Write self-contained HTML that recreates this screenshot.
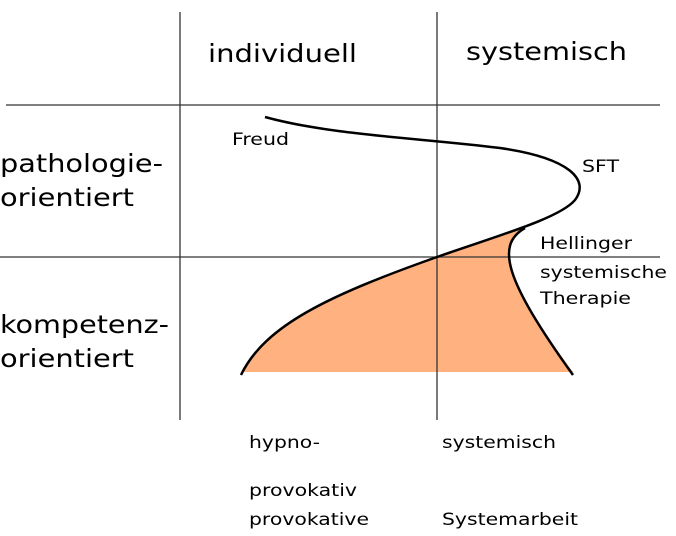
<!DOCTYPE html>
<html><head><meta charset="utf-8"><style>
html,body{margin:0;padding:0;background:#fff;}
svg{display:block;}
text{font-family:"DejaVu Sans","Liberation Sans",sans-serif;fill:#000;}
</style></head><body>
<svg width="676" height="536" viewBox="0 0 676 536" xmlns="http://www.w3.org/2000/svg">
<path d="M241,375 C265,325 330,295 437,257 C480,242 505,235 525,228 C495,245 505,280 573,372 L241,372 Z" fill="#ffb27f"/>
<g stroke="#333" stroke-width="1.3">
<line x1="180" y1="12" x2="180" y2="420"/>
<line x1="437" y1="12" x2="437" y2="420"/>
<line x1="6" y1="105" x2="660" y2="105"/>
<line x1="0" y1="257" x2="660" y2="257"/>
</g>
<g fill="none" stroke="#000" stroke-width="2.5">
<path d="M265,117 C330,135 420,138 500,148 C570,158 590,180 575,200 C560,218 500,235 437,257 C330,295 265,325 241,375"/>
<path d="M525,228 C495,245 505,280 573,375"/>
</g>
<g font-size="25" lengthAdjust="spacingAndGlyphs">
<text x="208" y="62" textLength="149" lengthAdjust="spacingAndGlyphs">individuell</text>
<text x="466" y="60" textLength="161" lengthAdjust="spacingAndGlyphs">systemisch</text>
<text x="0" y="172" textLength="163" lengthAdjust="spacingAndGlyphs">pathologie-</text>
<text x="0" y="206" textLength="134" lengthAdjust="spacingAndGlyphs">orientiert</text>
<text x="0" y="333" textLength="169" lengthAdjust="spacingAndGlyphs">kompetenz-</text>
<text x="0" y="367" textLength="134" lengthAdjust="spacingAndGlyphs">orientiert</text>
</g>
<g font-size="17">
<text x="232" y="145" textLength="57" lengthAdjust="spacingAndGlyphs">Freud</text>
<text x="582" y="172" textLength="37" lengthAdjust="spacingAndGlyphs">SFT</text>
<text x="540" y="249" textLength="92" lengthAdjust="spacingAndGlyphs">Hellinger</text>
<text x="540" y="278" textLength="127" lengthAdjust="spacingAndGlyphs">systemische</text>
<text x="540" y="304" textLength="91" lengthAdjust="spacingAndGlyphs">Therapie</text>
<text x="249" y="448" textLength="71" lengthAdjust="spacingAndGlyphs">hypno-</text>
<text x="249" y="496" textLength="108" lengthAdjust="spacingAndGlyphs">provokativ</text>
<text x="249" y="525" textLength="120" lengthAdjust="spacingAndGlyphs">provokative</text>
<text x="442" y="448" textLength="114" lengthAdjust="spacingAndGlyphs">systemisch</text>
<text x="442" y="525" textLength="136" lengthAdjust="spacingAndGlyphs">Systemarbeit</text>
</g>
</svg>
</body></html>
